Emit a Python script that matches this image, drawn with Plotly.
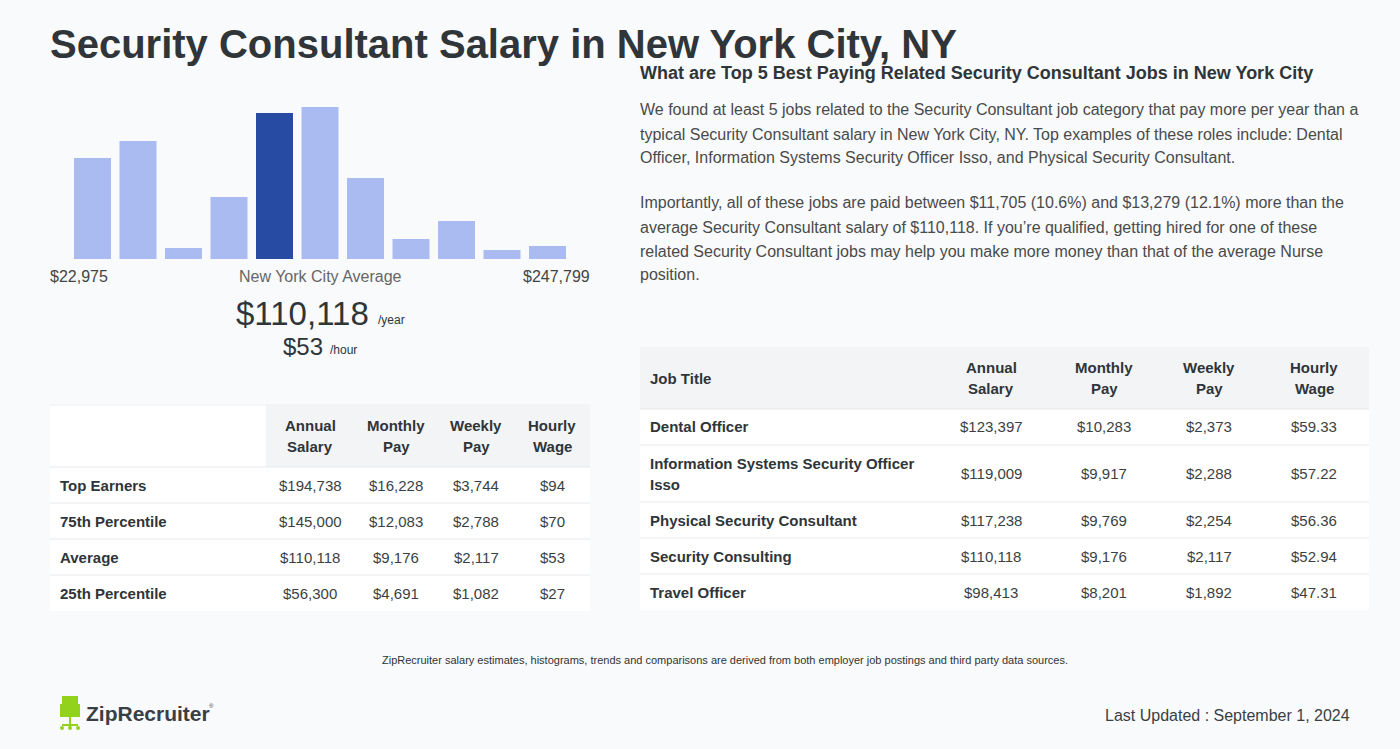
import plotly.graph_objects as go

W, H = 1400, 749

# ---- data ----
title = "Security Consultant Salary in New York City, NY"
hist_bins = list(range(11))
hist_counts = [101, 118, 11, 62, 146, 152, 81, 20, 38, 9, 13]
avg_bin = 4
range_low, range_high = "$22,975", "$247,799"
avg_annual, avg_hourly = "$110,118", "$53"

left_cols = ["Annual\nSalary", "Monthly\nPay", "Weekly\nPay", "Hourly\nWage"]
left_rows = ["Top Earners", "75th Percentile", "Average", "25th Percentile"]
left_annual = ["$194,738", "$145,000", "$110,118", "$56,300"]
left_monthly = ["$16,228", "$12,083", "$9,176", "$4,691"]
left_weekly = ["$3,744", "$2,788", "$2,117", "$1,082"]
left_hourly = ["$94", "$70", "$53", "$27"]

right_heading = "What are Top 5 Best Paying Related Security Consultant Jobs in New York City"
para1 = [
    "We found at least 5 jobs related to the Security Consultant job category that pay more per year than a",
    "typical Security Consultant salary in New York City, NY. Top examples of these roles include: Dental",
    "Officer, Information Systems Security Officer Isso, and Physical Security Consultant.",
]
para2 = [
    "Importantly, all of these jobs are paid between $11,705 (10.6%) and $13,279 (12.1%) more than the",
    "average Security Consultant salary of $110,118. If you\u2019re qualified, getting hired for one of these",
    "related Security Consultant jobs may help you make more money than that of the average Nurse",
    "position.",
]
jobs = ["Dental Officer", "Information Systems Security Officer\nIsso", "Physical Security Consultant",
        "Security Consulting", "Travel Officer"]
job_annual = ["$123,397", "$119,009", "$117,238", "$110,118", "$98,413"]
job_monthly = ["$10,283", "$9,917", "$9,769", "$9,176", "$8,201"]
job_weekly = ["$2,373", "$2,288", "$2,254", "$2,117", "$1,892"]
job_hourly = ["$59.33", "$57.22", "$56.36", "$52.94", "$47.31"]

footnote = ("ZipRecruiter salary estimates, histograms, trends and comparisons are derived "
            "from both employer job postings and third party data sources.")
updated = "Last Updated : September 1, 2024"

# ---- styling ----
BG = "#f8fafc"
DARK = "#2f3538"
TEXT = "#3a3f44"
GREY_HDR = "#f3f4f6"
LINE = "#e6e8eb"
FONT = "Liberation Sans, Arial, sans-serif"


def X(px):
    return px / W


def Y(py):
    return 1 - py / H


shapes = []
annotations = []


def text(s, x, y, size=15, color=TEXT, anchor="left", bold=False):
    if bold:
        s = "<b>" + s + "</b>"
    # annotations carry ~2px of padding; pull edge-anchored text back onto its edge
    if anchor == "left":
        x -= 2
    elif anchor == "right":
        x += 2
    annotations.append(dict(text=s, x=X(x), y=Y(y), xref="paper", yref="paper",
                            xanchor=anchor, yanchor="middle", showarrow=False,
                            font=dict(family=FONT, size=size, color=color)))


def rect(x0, y0, x1, y1, fill, line=None):
    shapes.append(dict(type="rect", xref="paper", yref="paper", layer="below",
                       x0=X(x0), x1=X(x1), y0=Y(y1), y1=Y(y0), fillcolor=fill,
                       line=dict(width=0) if line is None else line))


def hline(x0, x1, y, color=LINE):
    shapes.append(dict(type="line", xref="paper", yref="paper", layer="above",
                       x0=X(x0), x1=X(x1), y0=Y(y), y1=Y(y), line=dict(color=color, width=1)))


def multiline(s, x, yc, gap, **kw):
    parts = s.split("\n")
    n = len(parts)
    for i, p in enumerate(parts):
        text(p, x, yc + (i - (n - 1) / 2) * gap, **kw)


# ---- histogram ----
colors = ["#274ba3" if b == avg_bin else "#aabbf1" for b in hist_bins]
fig = go.Figure(go.Bar(x=hist_bins, y=hist_counts, marker=dict(color=colors, line=dict(width=0)),
                       hoverinfo="skip"))

# title and histogram labels
text(title, 50, 44, size=40, color=DARK, bold=True)
text(range_low, 50, 276, size=16, color="#444")
text("New York City Average", 320, 276, size=16, color="#666", anchor="center")
text(range_high, 590, 276, size=16, color="#444", anchor="right")
text(avg_annual, 369, 313, size=33, color=DARK, anchor="right")
text("/year", 378, 320, size=12, color=DARK)
text(avg_hourly, 323, 346, size=24, color=DARK, anchor="right")
text("/hour", 330, 350, size=12, color=DARK)

# ---- left table ----
lx0, lx1 = 50, 590
l_centers = [310, 396, 476, 552]
rect(lx0, 405, 266, 467, "#ffffff")
rect(266, 405, lx1, 467, GREY_HDR)
hline(lx0, lx1, 405, "#eef0f2")
for c, cx in zip(left_cols, l_centers):
    multiline(c, cx, 436, 21, size=15, color=DARK, anchor="center", bold=True)
row_top = 467
left_vals = [left_annual, left_monthly, left_weekly, left_hourly]
for i, name in enumerate(left_rows):
    y0, y1 = row_top + 36 * i, row_top + 36 * (i + 1)
    rect(lx0, y0, lx1, y1, "#ffffff")
    hline(lx0, lx1, y0)
    yc = (y0 + y1) / 2
    text(name, 60, yc, size=15, color=DARK, bold=True)
    for col, cx in zip(left_vals, l_centers):
        text(col[i], cx, yc, size=15, color=TEXT, anchor="center")

# ---- right text ----
text(right_heading, 640, 73, size=18, color=DARK, bold=True)
for i, line in enumerate(para1):
    text(line, 640, 110 + 24 * i, size=16, color="#4a4a4a")
for i, line in enumerate(para2):
    text(line, 640, 203 + 24 * i, size=16, color="#4a4a4a")

# ---- right table ----
rx0, rx1 = 640, 1369
r_centers = [991, 1104, 1209, 1314]
rect(rx0, 347, rx1, 409, GREY_HDR)
text("Job Title", 650, 379, size=15, color=DARK, bold=True)
for c, cx in zip(left_cols, r_centers):
    multiline(c, cx, 378, 21, size=15, color=DARK, anchor="center", bold=True)
job_vals = [job_annual, job_monthly, job_weekly, job_hourly]
y0 = 409
for i, job in enumerate(jobs):
    h = 57 if "\n" in job else 36
    y1 = y0 + h
    rect(rx0, y0, rx1, y1, "#ffffff")
    hline(rx0, rx1, y0)
    yc = (y0 + y1) / 2
    multiline(job, 650, yc, 21, size=15, color=DARK, bold=True)
    for col, cx in zip(job_vals, r_centers):
        text(col[i], cx, yc, size=15, color=TEXT, anchor="center")
    y0 = y1

# ---- footer ----
text(footnote, 725, 660, size=11, color="#333", anchor="center")
text(updated, 1350, 715, size=16, color=TEXT, anchor="right")

# ZipRecruiter logo: chair icon + wordmark
LIME = "#93d21c"
rect(62, 696, 78, 713, LIME)
rect(60, 704, 62, 717, LIME)
rect(78, 704, 80, 717, LIME)
rect(61, 713, 79, 717, LIME)
rect(69, 717, 71, 727, LIME)
rect(62, 724, 78, 726, LIME)
for cx in (62, 70, 78):
    shapes.append(dict(type="circle", xref="paper", yref="paper", layer="below",
                       x0=X(cx - 2), x1=X(cx + 2), y0=Y(730), y1=Y(726),
                       fillcolor=LIME, line=dict(width=0)))
text("ZipRecruiter", 86, 713, size=21, color=TEXT, bold=True)
text("\u00ae", 209, 706, size=6, color=TEXT)

fig.update_layout(
    width=W, height=H,
    margin=dict(l=0, r=0, t=0, b=0),
    paper_bgcolor=BG, plot_bgcolor="rgba(0,0,0,0)",
    showlegend=False,
    bargap=0.187,
    xaxis=dict(domain=[X(69.75), X(570.25)], range=[-0.5, 10.5], visible=False, fixedrange=True),
    yaxis=dict(domain=[Y(259), Y(107)], range=[0, max(hist_counts)], visible=False, fixedrange=True),
    shapes=shapes,
    annotations=annotations,
)

# drop the page's default body margin so the figure sits at the window's corner
fig.write_html("out.html", config={"displayModeBar": False},
               post_script="document.body.style.margin='0';document.body.style.background='%s';" % BG)
